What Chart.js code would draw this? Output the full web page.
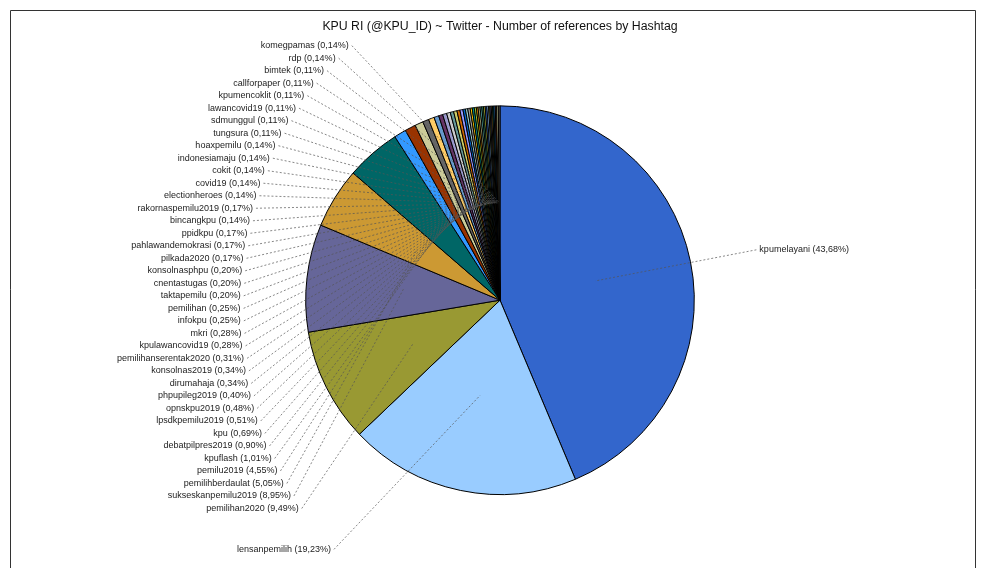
<!DOCTYPE html>
<html>
<head>
<meta charset="utf-8">
<script src="https://cdn.jsdelivr.net/npm/chart.js@4.4.1/dist/chart.umd.min.js"></script>
<style>
html,body{margin:0;padding:0;background:#ffffff;}
#wrap{width:987px;height:568px;position:relative;}
</style>
</head>
<body>
<div id="wrap"><canvas id="c" width="987" height="568"></canvas></div>
<script>
// ---- data (slice order, clockwise from 12 o'clock) ----
const hashtags = [
  'kpumelayani','lensanpemilih','pemilihan2020','sukseskanpemilu2019','pemilihberdaulat',
  'pemilu2019','kpuflash','debatpilpres2019','kpu','lpsdkpemilu2019',
  'opnskpu2019','phpupileg2019','dirumahaja','konsolnas2019','pemilihanserentak2020',
  'kpulawancovid19','mkri','infokpu','pemilihan','taktapemilu',
  'cnentastugas','konsolnasphpu','pilkada2020','pahlawandemokrasi','ppidkpu',
  'bincangkpu','rakornaspemilu2019','electionheroes','covid19','cokit',
  'indonesiamaju','hoaxpemilu','tungsura','sdmunggul','lawancovid19',
  'kpumencoklit','callforpaper','bimtek','rdp','komegpamas'
];
const shares = [
  43.68, 19.23, 9.49, 8.95, 5.05,
  4.55, 1.01, 0.90, 0.69, 0.51,
  0.48, 0.40, 0.34, 0.34, 0.31,
  0.28, 0.28, 0.25, 0.25, 0.20,
  0.20, 0.20, 0.17, 0.17, 0.17,
  0.14, 0.17, 0.14, 0.14, 0.14,
  0.14, 0.14, 0.11, 0.11, 0.11,
  0.11, 0.11, 0.11, 0.14, 0.14
];
const chartTitle = 'KPU RI (@KPU_ID) ~ Twitter - Number of references by Hashtag';

// ---- style ----
const palette = [
  '#3366cc','#99ccff','#999933','#666699','#cc9933','#006666','#3399ff','#993300',
  '#cccc99','#666666','#ffcc66','#6699cc','#663366','#9999cc','#cccccc','#669999',
  '#cccc66','#cc6600','#9999ff','#0066cc','#99cccc','#999999','#ffcc00','#009999',
  '#99cc33','#ff9900','#999966','#66cccc','#339966','#cccc33'
];
const sliceColors = shares.map((_, i) => palette[i % palette.length]);

const LABEL_FONT = '9px "Liberation Sans", Arial, sans-serif';
const LABEL_REACH = 1.31;   // label natural distance factor
const LABEL_STEP = 12.51;   // min vertical gap between labels
const ELL_A = 1.335;        // label column ellipse (x radius factor)
const ELL_B = 1.65;         // label column ellipse (y radius factor)
const ELL_DY = 6;
const LINK_DEPTH = 0.5;     // leader line anchor, fraction of radius

const framePlugin = {
  id: 'frame',
  beforeDraw(chart) {
    const ctx = chart.ctx;
    ctx.save();
    ctx.fillStyle = '#ffffff';
    ctx.fillRect(0, 0, chart.width, chart.height);
    ctx.strokeStyle = '#333333';
    ctx.lineWidth = 1;
    ctx.beginPath();
    ctx.moveTo(10.5, chart.height + 2);
    ctx.lineTo(10.5, 10.5);
    ctx.lineTo(975.5, 10.5);
    ctx.lineTo(975.5, chart.height + 2);
    ctx.stroke();
    ctx.restore();
  }
};

const labelPlugin = {
  id: 'pieLabels',
  afterDatasetsDraw(chart) {
    const ctx = chart.ctx;
    const arcs = chart.getDatasetMeta(0).data;
    const cx = arcs[0].x, cy = arcs[0].y, R = arcs[0].outerRadius;
    const fmt = v => v.toFixed(2).replace('.', ',');
    const items = arcs.map((arc, i) => {
      const mid = (arc.startAngle + arc.endAngle) / 2;
      return {
        i, mid,
        ax: cx + Math.cos(mid) * R * LINK_DEPTH,
        ay: cy + Math.sin(mid) * R * LINK_DEPTH,
        ny: cy + Math.sin(mid) * R * LABEL_REACH,
        text: hashtags[i] + ' (' + fmt(shares[i]) + '%)'
      };
    });
    const colX = y => {
      const t = (y - cy - ELL_DY) / (R * ELL_B);
      return R * ELL_A * Math.sqrt(Math.max(0, 1 - t * t));
    };
    const place = list => {
      list.sort((a, b) => a.ny - b.ny);
      let prev = -Infinity;
      list.forEach(it => { it.y = Math.max(it.ny, prev + LABEL_STEP); prev = it.y; });
    };
    const left = items.filter(it => Math.cos(it.mid) <= 0);
    const right = items.filter(it => Math.cos(it.mid) > 0);
    place(left); place(right);

    ctx.save();
    ctx.font = LABEL_FONT;
    ctx.textBaseline = 'middle';
    ctx.strokeStyle = '#555555';
    ctx.lineWidth = 0.7;
    ctx.setLineDash([2, 2]);
    left.forEach(it => {
      const xe = cx - colX(it.y);
      ctx.beginPath();
      ctx.moveTo(xe + 3, it.y);
      ctx.lineTo(it.ax, it.ay);
      ctx.stroke();
      it.xe = xe;
    });
    right.forEach(it => {
      const xs = cx + colX(it.y) + 4;
      ctx.beginPath();
      ctx.moveTo(xs - 3, it.y);
      ctx.lineTo(it.ax, it.ay);
      ctx.stroke();
      it.xs = xs;
    });
    ctx.setLineDash([]);
    ctx.fillStyle = '#222222';
    ctx.textAlign = 'right';
    left.forEach(it => ctx.fillText(it.text, it.xe, it.y));
    ctx.textAlign = 'left';
    right.forEach(it => ctx.fillText(it.text, it.xs, it.y));
    ctx.restore();
  }
};

new Chart(document.getElementById('c'), {
  type: 'pie',
  data: {
    labels: hashtags,
    datasets: [{
      data: shares,
      backgroundColor: sliceColors,
      borderColor: '#000000',
      borderWidth: 1
    }]
  },
  options: {
    responsive: false,
    animation: false,
    layout: { padding: { left: 13, right: 0, top: 0, bottom: 73 } },
    plugins: {
      legend: { display: false },
      tooltip: { enabled: false },
      title: {
        display: true,
        text: chartTitle,
        color: '#111111',
        font: { family: '"Liberation Sans", Arial, sans-serif', size: 12.3, weight: 'normal' },
        padding: { top: 19, bottom: 71.6 }
      }
    }
  },
  plugins: [framePlugin, labelPlugin]
});
</script>
</body>
</html>
